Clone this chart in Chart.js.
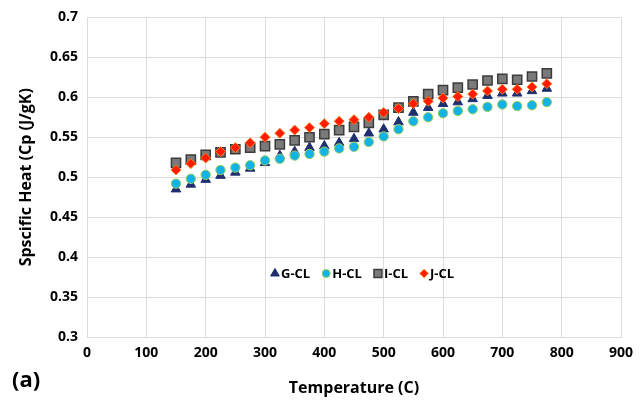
<!DOCTYPE html>
<html lang="en">
<head>
  <meta charset="UTF-8">
  <title>Specific Heat</title>
  <script src="https://cdn.jsdelivr.net/npm/chart.js"></script>
  <style>
    body { margin: 0; background: #fff; }
  </style>
</head>
<body>
  <canvas id="heatChart" width="644" height="406"></canvas>

  <script>
    // Temperatures (C) shared by all four series
    const temps = [150, 175, 200, 225, 250, 275, 300, 325, 350, 375, 400, 425, 450,
                   475, 500, 525, 550, 575, 600, 625, 650, 675, 700, 725, 750, 775];

    const seriesNames = ['G-CL', 'H-CL', 'I-CL', 'J-CL'];

    const gCL = [0.485, 0.491, 0.497, 0.502, 0.506, 0.511, 0.518, 0.527, 0.532, 0.537, 0.539, 0.543, 0.548,
                 0.555, 0.560, 0.569, 0.581, 0.587, 0.592, 0.594, 0.598, 0.602, 0.605, 0.605, 0.608, 0.611];
    const hCL = [0.492, 0.498, 0.503, 0.509, 0.512, 0.515, 0.521, 0.523, 0.527, 0.529, 0.532, 0.536, 0.538,
                 0.544, 0.551, 0.560, 0.570, 0.575, 0.580, 0.583, 0.585, 0.588, 0.591, 0.589, 0.590, 0.594];
    const iCL = [0.518, 0.522, 0.528, 0.531, 0.535, 0.537, 0.539, 0.541, 0.546, 0.550, 0.554, 0.559, 0.563,
                 0.568, 0.578, 0.587, 0.595, 0.604, 0.609, 0.612, 0.616, 0.621, 0.623, 0.622, 0.626, 0.630];
    const jCL = [0.509, 0.517, 0.524, 0.532, 0.537, 0.543, 0.550, 0.555, 0.559, 0.562, 0.567, 0.570, 0.572,
                 0.575, 0.581, 0.586, 0.592, 0.595, 0.599, 0.601, 0.604, 0.608, 0.610, 0.610, 0.613, 0.617];

    const FONT = "'Open Sans', 'Liberation Sans', sans-serif";

    function toPoints(values) {
      return temps.map((t, i) => ({ x: t, y: values[i] }));
    }

    // Legend drawn inside the plot area, plus the "(a)" panel label
    const innerLegend = {
      id: 'innerLegend',
      afterDraw(chart) {
        const ctx = chart.ctx;
        const area = chart.chartArea;
        const y = chart.scales.y.getPixelForValue(0.3795);
        let x = area.left + area.width * 0.352;
        ctx.save();
        ctx.font = 'bold 13px ' + FONT;
        ctx.textBaseline = 'middle';
        chart.data.datasets.forEach((ds) => {
          ctx.fillStyle = ds.backgroundColor;
          ctx.strokeStyle = ds.borderColor;
          ctx.lineWidth = ds.borderWidth;
          Chart.helpers.drawPoint(ctx, {
            pointStyle: ds.pointStyle,
            radius: ds.legendRadius,
            borderWidth: ds.borderWidth
          }, x, y);
          ctx.fillStyle = '#000';
          ctx.fillText(ds.label, x + 6, y + 1);
          x += 6 + ctx.measureText(ds.label).width + 16;
        });
        ctx.font = 'bold 22px ' + FONT;
        ctx.fillText('(a)', 12, 381);
        ctx.restore();
      }
    };

    const ctx = document.getElementById('heatChart').getContext('2d');
    new Chart(ctx, {
      type: 'scatter',
      data: {
        datasets: [
          {
            label: seriesNames[0], data: toPoints(gCL), order: 4,
            pointStyle: 'triangle', pointRadius: 5.5, legendRadius: 5,
            backgroundColor: '#1f2f6e', borderColor: '#1f2f6e', borderWidth: 1
          },
          {
            label: seriesNames[1], data: toPoints(hCL), order: 3,
            pointStyle: 'circle', pointRadius: 4.7, legendRadius: 4,
            backgroundColor: '#13b3e8', borderColor: '#9ccf5a', borderWidth: 1
          },
          {
            label: seriesNames[2], data: toPoints(iCL), order: 2,
            pointStyle: 'rect', pointRadius: 6.5, legendRadius: 5.6,
            backgroundColor: '#7a7a7a', borderColor: '#3c3c3c', borderWidth: 1.5
          },
          {
            label: seriesNames[3], data: toPoints(jCL), order: 1,
            pointStyle: 'rectRot', pointRadius: 5, legendRadius: 4.2,
            backgroundColor: '#ff1a00', borderColor: '#ff7a1a', borderWidth: 1
          }
        ]
      },
      options: {
        responsive: false,
        animation: false,
        layout: { padding: { top: 15, right: 23, left: 0, bottom: 0 } },
        plugins: {
          legend: { display: false },
          tooltip: { enabled: false }
        },
        scales: {
          x: {
            type: 'linear',
            min: 0,
            max: 900,
            ticks: { stepSize: 100, color: '#000', padding: 8, font: { family: FONT, size: 14, weight: 'bold' } },
            grid: { color: '#dcdcdc', drawTicks: false },
            border: { color: '#dcdcdc' },
            title: { display: true, text: 'Temperature (C)', color: '#000', padding: { top: 0, bottom: 8 },
                     font: { family: FONT, size: 16, weight: 'bold' } },
            afterFit(scale) { scale.height = 69; }
          },
          y: {
            min: 0.3,
            max: 0.7,
            ticks: {
              stepSize: 0.05, color: '#000', padding: 9,
              font: { family: FONT, size: 14, weight: 'bold' },
              callback: (v) => String(Number(v.toFixed(2)))
            },
            grid: { color: '#dcdcdc', drawTicks: false },
            border: { color: '#dcdcdc' },
            title: { display: true, text: 'Spscific Heat (Cp (J/gK)', color: '#000', padding: { top: 17, bottom: 0 },
                     font: { family: FONT, size: 16, weight: 'bold' } },
            afterFit(scale) { scale.width = 87; }
          }
        }
      },
      plugins: [innerLegend]
    });
  </script>
</body>
</html>
